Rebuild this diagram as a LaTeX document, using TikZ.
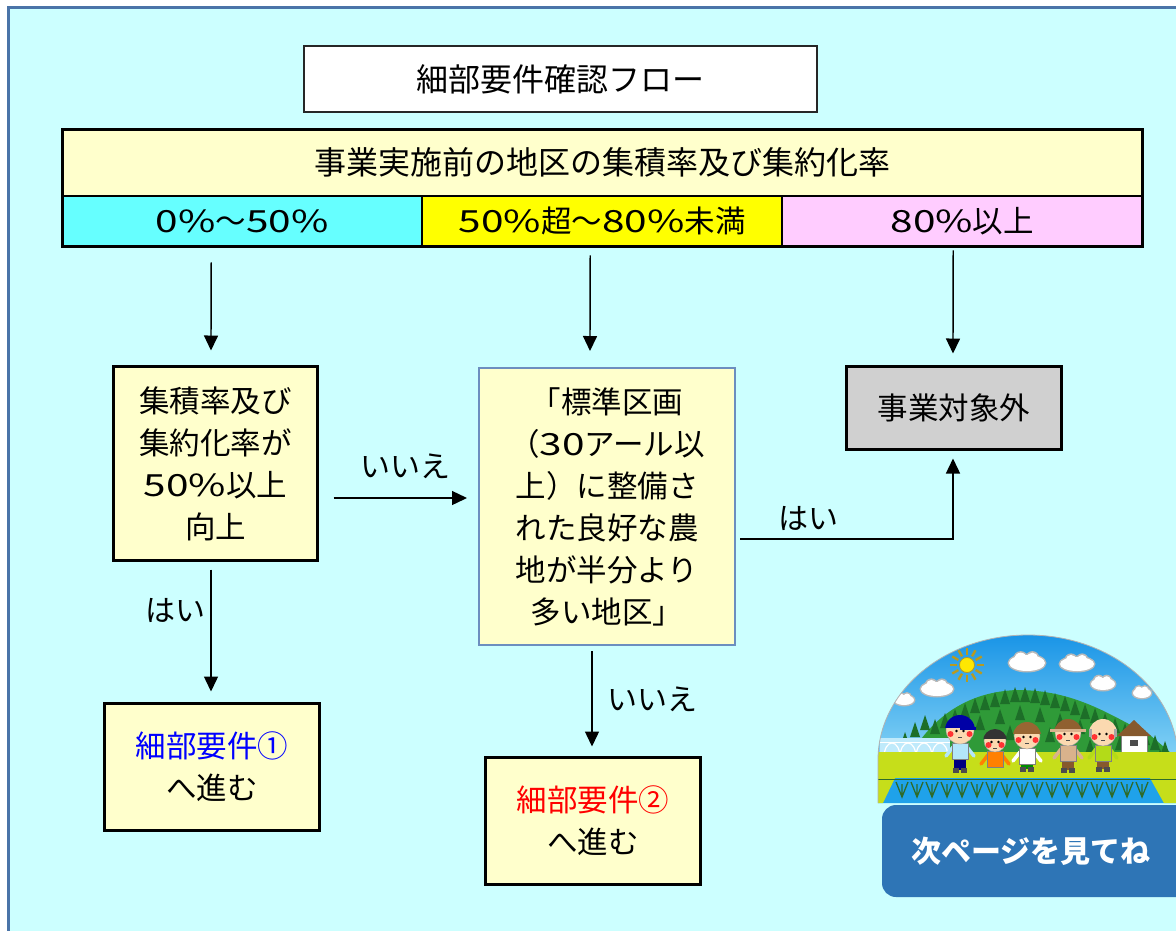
\documentclass[tikz,border=0pt]{standalone}
\usepackage{fontspec}
\setmainfont{Noto Sans CJK JP}
% digits and percent signs are set a little wider, as in the rounded original face
\newfontfamily\wnum{Noto Sans CJK JP}[FakeStretch=1.33]
\newcommand\nm[1]{{\wnum #1}}
\usetikzlibrary{arrows.meta,calc}
\definecolor{bgcyan}{HTML}{CCFFFF}
\definecolor{framebl}{HTML}{4A74A8}
\definecolor{cream}{HTML}{FFFFCC}
\definecolor{cellcyan}{HTML}{66FFFF}
\definecolor{cellyel}{HTML}{FFFF00}
\definecolor{cellpink}{HTML}{FFCCFF}
\definecolor{outgray}{HTML}{D0D0D0}
\definecolor{boxblue}{HTML}{6C8EBF}
\definecolor{btnblue}{HTML}{2E75B6}
\definecolor{skytop}{HTML}{1592E6}
\definecolor{skybot}{HTML}{8AD6F6}
\definecolor{mtgreen}{HTML}{2F9A38}
\definecolor{treegreen}{HTML}{1D6E28}
\definecolor{fieldgreen}{HTML}{C6DE1A}
\definecolor{paddyblue}{HTML}{1FA2EA}
\definecolor{plantgreen}{HTML}{2E6B2A}
\definecolor{skin}{HTML}{FBD9B0}
\definecolor{sunray}{HTML}{B89A20}

% a small figure: x, head y, head radius, hair/hat colour, shirt colour, legs colour, feet y
\newcommand\villager[7]{%
  \fill[#6] (#1-6,#2+#3+12) rectangle (#1+6,#7-3);
  \fill[black!70] (#1-7,#7-5) rectangle (#1-1,#7);
  \fill[black!70] (#1+1,#7-5) rectangle (#1+7,#7);
  \draw[#5, line width=3.5pt, line cap=round] (#1-7,#2+#3+3) -- (#1-14,#2+#3+12);
  \draw[#5, line width=3.5pt, line cap=round] (#1+7,#2+#3+3) -- (#1+14,#2+#3+12);
  \fill[#5, draw=black!50, line width=0.4pt] (#1-8,#2+#3-1) rectangle (#1+8,#2+#3+15);
  \fill[skin, draw=black!40, line width=0.4pt] (#1,#2) circle (#3);
  \begin{scope}
    \clip (#1-#3-3,#2-#3-4) rectangle (#1+#3+3,#2-3);
    \fill[#4] (#1,#2) circle (#3+1);
  \end{scope}
  \fill[red!80] (#1-#3+4.5,#2+4) circle (3);
  \fill[red!80] (#1+#3-4.5,#2+4) circle (3);
  \fill[black] (#1-3.5,#2+1) circle (1.4);
  \fill[black] (#1+3.5,#2+1) circle (1.4);
  \draw[black!70, line width=0.8pt] (#1-2,#2+7) -- (#1+2,#2+7);
}

% a cloud: centre x, centre y, half width, half height
\newcommand\puff[4]{%
  \fill[gray!55] (#1,#2) ellipse [x radius=#3+1.5, y radius=#4+1.5];
  \fill[gray!55] (#1-#3*0.35,#2-#4*0.55) circle (#4*0.75+1.5);
  \fill[gray!55] (#1+#3*0.3,#2-#4*0.6) circle (#4*0.7+1.5);
  \fill[white] (#1,#2) ellipse [x radius=#3, y radius=#4];
  \fill[white] (#1-#3*0.35,#2-#4*0.55) circle (#4*0.75);
  \fill[white] (#1+#3*0.3,#2-#4*0.6) circle (#4*0.7);
}

\begin{document}
\begin{tikzpicture}[x=1pt,y=-1pt,
  txt/.style={font=\fontsize{30.5}{42}\selectfont, align=center, inner sep=0pt},
  bigtxt/.style={font=\fontsize{32}{40}\selectfont, align=center, inner sep=0pt},
  thickbox/.style={draw=black, line width=3pt, fill=cream, txt},
  cell/.style={minimum height=50pt, minimum width=360pt, anchor=north west, txt},
  arr/.style={line width=1.4pt, -{Triangle[length=15pt,width=14pt]}},
  lbl/.style={font=\fontsize{30}{36}\selectfont, inner sep=0pt}
]
\useasboundingbox (0,0) rectangle (1176,930);
\fill[white] (0,0) rectangle (1176,930);
\draw[framebl, line width=2.5pt, fill=bgcyan] (8.5,7.5) rectangle (1195,945);

% title
\node[draw=black!85, line width=2.5pt, fill=white, minimum width=513pt,
      minimum height=66pt, bigtxt] (title) at (560.5,79) {細部要件確認フロー};

% rate table
\node[fill=cream, minimum width=1080pt, minimum height=67pt, anchor=north west, bigtxt]
  (head) at (62,129) {事業実施前の地区の集積率及び集約化率};
\node[fill=cellcyan, cell] (c1) at (62,196) {\nm{0\%}～\nm{50\%}};
\node[fill=cellyel, cell] (c2) at (422,196) {\nm{50\%}超～\nm{80\%}未満};
\node[fill=cellpink, cell] (c3) at (782,196) {\nm{80\%}以上};
\draw[line width=2pt] (head.south west) -- (head.south east);
\draw[line width=2pt] (c1.north east) -- (c1.south east);
\draw[line width=2pt] (c2.north east) -- (c2.south east);
\draw[line width=3pt] (head.north west) rectangle (c3.south east);

% decision and result boxes
\node[thickbox, minimum width=204pt, minimum height=194pt] (boxA) at (215.5,463.5)
  {集積率及び\\集約化率が\\\nm{50\%}以上\\向上};
\node[draw=boxblue, line width=2pt, fill=cream, txt, minimum width=256pt,
      minimum height=277pt] (boxB) at (607,506.5)
  {「標準区画\\（\nm{30}アール以\\上）に整備さ\\れた良好な農\\地が半分より\\多い地区」};
\node[draw=black, line width=3pt, fill=outgray, txt, minimum width=215pt,
      minimum height=83pt] (boxC) at (954,408) {事業対象外};
\node[thickbox, minimum width=215pt, minimum height=127pt] (boxD) at (212,767)
  {\textcolor{blue}{細部要件①}\\へ進む};
\node[thickbox, minimum width=215pt, minimum height=127pt] (boxE) at (593,821)
  {\textcolor{red}{細部要件②}\\へ進む};

% connectors
\draw[arr] ($(c1.south)+(-31,16)$) -- ($(boxA.north)+(-4.5,-14.5)$);
\draw[arr] ($(c2.south)+(-12,9)$) -- ($(boxB.north)+(-17,-16)$);
\draw[arr] ($(c3.south)+(-9,4)$) -- ($(boxC.north)+(-1,-11.5)$);
\draw[arr] ($(boxA.east)+(14.5,34.5)$) -- ($(boxB.west)+(-11,-8.5)$);
\draw[arr] ($(boxB.east)+(4,32.5)$) -| ($(boxC.south)+(-1,7.5)$);
\draw[arr] ($(boxA.south)+(-4.5,7.5)$) -- ($(boxD.north)+(-1,-10.5)$);
\draw[arr] ($(boxB.south)+(-15,5)$) -- ($(boxE.north)+(-1,-9.5)$);

% connector labels
\node[lbl] (noA) at (405,466) {いいえ};
\node[lbl] (yesB) at (808,518) {はい};
\node[lbl] (yesA) at (175,610) {はい};
\node[lbl] (noB) at (652,699) {いいえ};

% village scene under a dome
\begin{scope}
  \clip (878,803) -- (878,760) .. controls (878,691) and (945,635) .. (1028,635)
        .. controls (1111,635) and (1178,691) .. (1178,760) -- (1178,803) -- cycle;
  \shade[top color=skytop, bottom color=skybot] (870,630) rectangle (1180,765);
  % sun
  \foreach \a in {0,30,...,330}
    \draw[sunray, line width=2.4pt] (967,665) ++(\a:10) -- ++(\a:7);
  \fill[yellow!90!orange, draw=sunray, line width=0.8pt] (967,665) circle (7.5);
  % clouds
  \puff{1027}{663}{18}{8}
  \puff{1077}{664}{17}{7}
  \puff{937}{689}{16}{7}
  \puff{904}{700}{10}{5}
  \puff{1103}{684}{12}{6}
  \puff{1142}{693}{9}{5}
  % wooded hill
  \fill[mtgreen] (905,765) .. controls (925,725) and (960,692) .. (1017,690)
        .. controls (1075,690) and (1110,715) .. (1150,735) -- (1185,765) -- cycle;
  \foreach \x/\y in {915/725,925/718,935/722,945/716,955/712,965/706,975/701,985/698,
      995/695,1005/692,1015/690,1025/690,1035/691,1045/693,1055/696,1065/699,1075/703,
      1085/707,1095/711,1105/716,1115/721,1125/726,1135/730,1145/733,1155/738,1165/744,
      960/725,980/718,1000/712,1020/708,1040/710,1060/716,1080/722,1100/730,1120/738,
      990/735,1010/728,1030/726,1050/730,1070/736,1090/742,1140/748,1160/752,905/735}
    \fill[treegreen] (\x-5,\y+12) -- (\x,\y-3) -- (\x+5,\y+12) -- cycle;
  % greenhouse
  \fill[cyan!25] (880,738) rectangle (950,758);
  \foreach \x in {884,900,916,932}
    \draw[white, line width=1.2pt] (\x,758) .. controls (\x,738) and (\x+16,738) .. (\x+16,758);
  \draw[white, line width=1pt] (880,742) -- (950,742);
  % farmhouse
  \fill[white, draw=gray, line width=0.5pt] (1121,734) rectangle (1147,752);
  \fill[brown!70!black] (1117,736) -- (1134,720) -- (1151,736) -- cycle;
  \fill[black!70] (1130,740) rectangle (1138,746);
  % field and paddies
  \fill[fieldgreen] (870,752) rectangle (1180,780);
  \fill[paddyblue] (870,778) rectangle (1180,805);
  \fill[fieldgreen] (870,778) -- (895,778) -- (882,805) -- (870,805) -- cycle;
  \fill[fieldgreen] (1150,778) -- (1180,778) -- (1180,805) -- (1165,805) -- cycle;
  \foreach \x in {902,917,...,1150}
    \draw[plantgreen, line width=1.3pt] (\x-6,782) -- (\x,797) -- (\x+6,782)
      (\x,797) -- (\x,784);
  \draw[plantgreen, line width=1pt] (870,779) -- (1180,779);
  % people
  \villager{960}{730}{14}{blue!65!black}{cyan!30!white}{blue!50!black}{773}
  \villager{995}{741}{11}{black!80}{orange}{blue!25!gray}{768}
  \villager{1027}{736}{13}{brown!80!black}{white}{green!55!black}{772}
  \villager{1068}{733}{13}{brown!75!black}{brown!60!white}{brown!70!black}{773}
  \villager{1103}{733}{13}{skin}{yellow!70!green}{brown!70!black}{772}
  \fill[brown!60!white] (1050,729) rectangle (1086,732);
  \fill[blue!65!black] (960,727) rectangle (976,730);
  \fill[gray!70] (1089,729) rectangle (1092,737);
  \fill[gray!70] (1114,729) rectangle (1117,737);
\end{scope}
\draw[gray!60, line width=0.8pt] (878,803) -- (878,760) .. controls (878,691) and (945,635) .. (1028,635)
      .. controls (1111,635) and (1178,691) .. (1178,760);

% next-page button
\fill[btnblue, rounded corners=14pt] (882,805) rectangle (1200,897);
\node[font=\fontsize{30}{36}\selectfont\bfseries, text=white, inner sep=0pt] (btn)
  at (1031,851) {次ページを見てね};
\end{tikzpicture}
\end{document}
